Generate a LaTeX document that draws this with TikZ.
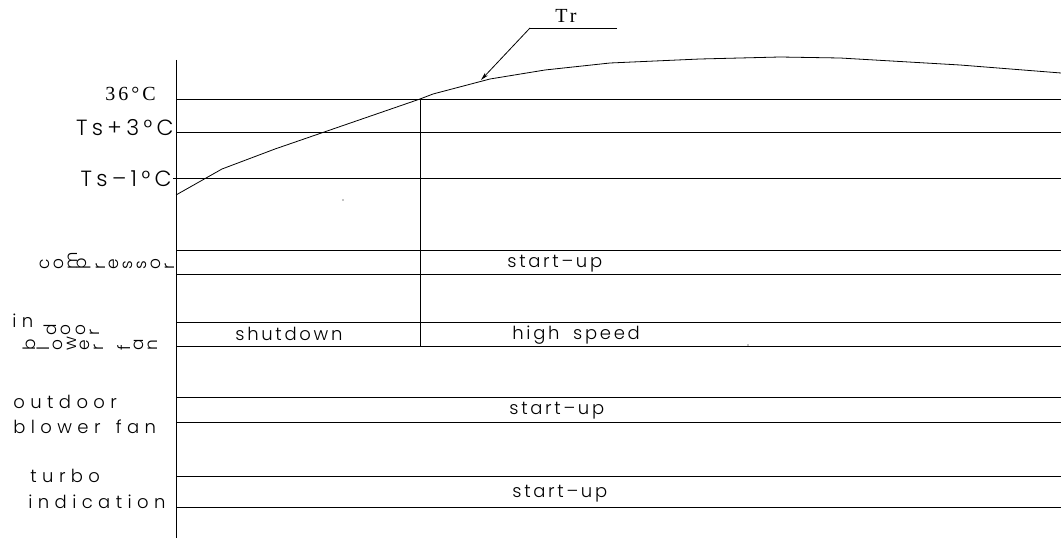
\documentclass[tikz,border=0pt]{standalone}
\usepackage{fontspec}
\usepackage{graphicx}
\setmainfont{Liberation Serif}
\newfontfamily\cadfont{Poppins Light}[LetterSpace=30]
\newfontfamily\cadrow{Poppins Light}[LetterSpace=15]
\newfontfamily\cadlevel{Poppins Light}[LetterSpace=20]
\newfontfamily\cadplain{Poppins Light}
\usetikzlibrary{arrows.meta}

\begin{document}
\begin{tikzpicture}[x=1pt,y=-1pt,>={Stealth[length=8pt,width=4pt]},line width=0.8pt,
 lab/.style={font=\cadfont\fontsize{18}{20}\selectfont,inner sep=0pt,anchor=base west},
 rowtext/.style={font=\cadrow\fontsize{18}{20}\selectfont,inner sep=0pt,anchor=base west},
 level/.style={font=\cadlevel\fontsize{22}{24}\selectfont,inner sep=0pt,anchor=base east},
 serif/.style={font=\fontsize{20}{22}\selectfont\addfontfeatures{LetterSpace=15},inner sep=0pt,anchor=base west},
 turned/.style={font=\cadplain\fontsize{17}{18}\selectfont,inner sep=0pt,anchor=south east}]
\useasboundingbox (0,0) rectangle (1061,548);
\coordinate (top) at (176,60);
\coordinate (bot) at (176,538);
\draw (top) -- (bot);
% temperature levels and rows
\foreach \x/\y in {176/99,176/132,173/178}{\draw (\x,\y) -- (1061,\y);}
\foreach \y in {250,274,322,346,397,422,476,507}{\draw (176,\y) -- (1061,\y);}
\draw (420,99) -- (420,346);
% room temperature curve
\draw (176,195) -- (222,169) -- (275,149) -- (420,99) -- (433,94) -- (490,79) -- (545,70)
 -- (610,63) -- (700,59) -- (780,57) -- (840,58) -- (960,65) -- (1061,73);
\node[serif] (tr) at (555,23) {Tr};
\coordinate (trr) at (617,28);
\coordinate (trl) at (530,28);
\coordinate (trtip) at (481,80);
\draw (trr) -- (trl);
\draw[->] (trl) -- (trtip);
\fill (343,200) circle (0.7);
\fill (748,345) circle (0.6);
% level labels
\node[serif] (t36) at (105,101) {36°C};
\node[level] (tsp) at (174,136) {Ts+3°C};
\node[level] (tsm) at (172,187) {Ts–1°C};
% row texts
\node[rowtext] (cmpon) at (507,268) {start–up};
\node[rowtext] (shut) at (235,341) {shutdown};
\node[rowtext] (high) at (512,339) {high\hspace{6pt} speed};
\node[rowtext] (outon) at (509,414) {start–up};
\node[rowtext] (turon) at (512,497) {start–up};
% row names, letters turned
\foreach \c [count=\k] in {c,o,m,p,r,e,s,s,o,r}{\node[turned] (cmp\k) at ({36+13.9*\k},270) {\rotatebox{90}{\c}};}
\node[lab] (in) at (12,327) {in};
\foreach \c [count=\k] in {d,o,o,r}{\node[turned] (door\k) at ({43+14.2*\k},336) {\rotatebox{90}{\c}};}
\foreach \c/\k in {b/1,l/2,o/3,w/4,e/5,r/6,f/8,a/9,n/10}{\node[turned] (blow\k) at ({22.5+13.5*\k},351) {\rotatebox{90}{\c}};}
\node[lab] (outd) at (13,408) {outdoor};
\node[lab] (outb) at (13,433) {blower\hspace{5pt} fan};
\node[lab] (turb) at (30,482) {turbo};
\node[lab] (turi) at (28,508) {indication};
\end{tikzpicture}
\end{document}
